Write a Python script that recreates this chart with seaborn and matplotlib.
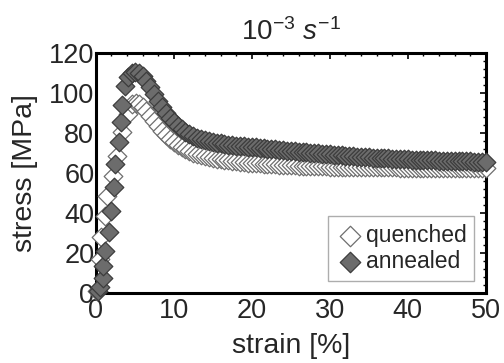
import numpy as np
import pandas as pd
import matplotlib
matplotlib.use("Agg")
import matplotlib.pyplot as plt
from matplotlib.ticker import MultipleLocator
import seaborn as sns

# ---- data ----
q_strain = [0.1, 0.5, 0.7, 1.15, 1.5, 2.2, 2.7, 3.3, 4.1, 4.7, 5.1,
            5.5, 6.0, 6.5, 7.0, 7.5, 8.0, 8.5, 9.0, 9.5, 10.0, 10.5, 11.0, 11.5, 12.0,
            12.5, 13.0, 13.5, 14.0, 14.5, 15.0, 15.5, 16.0, 16.5, 17.0, 17.5, 18.0,
            18.5, 19.0, 19.5, 20.0, 20.5, 21.0, 21.5, 22.0, 22.5, 23.0, 23.5, 24.0,
            24.5, 25.0, 25.5, 26.0, 26.5, 27.0, 27.5, 28.0, 28.5, 29.0, 29.5, 30.0,
            30.5, 31.0, 31.5, 32.0, 32.5, 33.0, 33.5, 34.0, 34.5, 35.0, 35.5, 36.0,
            36.5, 37.0, 37.5, 38.0, 38.5, 39.0, 39.5, 40.0, 40.5, 41.0, 41.5, 42.0,
            42.5, 43.0, 43.5, 44.0, 44.5, 45.0, 45.5, 46.0, 46.5, 47.0, 47.5, 48.0,
            48.5, 49.0, 49.5, 50.0]
q_stress = [1, 17, 28, 38.5, 48.5, 58.5, 68.5, 80.5, 89.5, 94.5, 95,
            94.5, 93, 91, 88.5, 86, 83.5, 81, 79, 77, 75.5, 74, 72.8, 71.8, 71,
            70.2, 69.5, 69, 68.5, 68, 67.6, 67.2, 66.9, 66.6, 66.3, 66, 65.8,
            65.6, 65.4, 65.2, 65, 64.9, 64.8, 64.6, 64.5, 64.4, 64.3, 64.2, 64.1,
            64, 63.9, 63.8, 63.7, 63.6, 63.6, 63.5, 63.4, 63.4, 63.3, 63.3, 63.2,
            63.2, 63.1, 63.1, 63.1, 63, 63, 63, 63, 62.9, 62.9, 62.9, 62.9,
            62.8, 62.8, 62.8, 62.8, 62.8, 62.7, 62.7, 62.7, 62.7, 62.7, 62.7, 62.6,
            62.6, 62.6, 62.6, 62.6, 62.6, 62.6, 62.5, 62.5, 62.5, 62.5, 62.5, 62.5,
            62.5, 62.5, 62.5, 62.5]

a_strain = [0.3, 0.5, 0.9, 0.9, 1.15, 1.7, 2.0, 2.3, 2.5, 3.0, 3.2, 3.4, 3.7, 4.1, 4.6, 5.0,
            5.5, 6.0, 6.5, 7.0, 7.5, 8.0, 8.5, 9.0, 9.5, 10.0, 10.5, 11.0, 11.5, 12.0,
            12.5, 13.0, 13.5, 14.0, 14.5, 15.0, 15.5, 16.0, 16.5, 17.0, 17.5, 18.0,
            18.5, 19.0, 19.5, 20.0, 20.5, 21.0, 21.5, 22.0, 22.5, 23.0, 23.5, 24.0,
            24.5, 25.0, 25.5, 26.0, 26.5, 27.0, 27.5, 28.0, 28.5, 29.0, 29.5, 30.0,
            30.5, 31.0, 31.5, 32.0, 32.5, 33.0, 33.5, 34.0, 34.5, 35.0, 35.5, 36.0,
            36.5, 37.0, 37.5, 38.0, 38.5, 39.0, 39.5, 40.0, 40.5, 41.0, 41.5, 42.0,
            42.5, 43.0, 43.5, 44.0, 44.5, 45.0, 45.5, 46.0, 46.5, 47.0, 47.5, 48.0,
            48.5, 49.0, 49.5, 50.0]
a_stress = [1, 3, 7.5, 13.5, 21, 30.5, 41, 53, 64.5, 75.5, 85.5, 94, 103.5, 108, 110, 110.5,
            110, 108.5, 106, 103, 99.5, 96, 93, 90, 87.5, 85.5, 83.5, 82, 80.5, 79.5,
            78.5, 77.5, 77, 76.5, 76, 75.5, 75, 74.8, 74.5, 74.2, 74, 73.7,
            73.5, 73.3, 73.1, 73, 72.8, 72.6, 72.4, 72.2, 72, 71.8, 71.6, 71.4,
            71.2, 71, 70.8, 70.6, 70.5, 70.3, 70.1, 70, 69.8, 69.6, 69.5, 69.3,
            69.1, 69, 68.8, 68.6, 68.5, 68.3, 68.2, 68, 67.9, 67.8, 67.7, 67.6,
            67.5, 67.4, 67.3, 67.2, 67.1, 67, 66.9, 66.8, 66.7, 66.6, 66.5, 66.5,
            66.4, 66.3, 66.3, 66.2, 66.1, 66.1, 66, 66, 65.9, 65.9, 65.8, 65.8,
            65.7, 65.7, 65.6, 65.6]

series_names = ["quenched", "annealed"]

sns.set_style("white")
plt.rcParams["font.family"] = ["Liberation Sans", "DejaVu Sans"]
plt.rcParams["mathtext.fontset"] = "custom"
plt.rcParams["mathtext.rm"] = "Liberation Sans"
plt.rcParams["mathtext.it"] = "Liberation Sans:italic"

fig = plt.figure(figsize=(5.04, 3.63), dpi=100)
ax = fig.add_axes([0.19, 0.193, 0.774, 0.661])

dq = pd.DataFrame({"strain": q_strain, "stress": q_stress})
da = pd.DataFrame({"strain": a_strain, "stress": a_stress})

sns.scatterplot(data=dq, x="strain", y="stress", ax=ax, marker="D", s=90,
                facecolor="white", edgecolor="#6e6e6e", linewidth=0.9,
                label=series_names[0], zorder=3, clip_on=False)
sns.scatterplot(data=da, x="strain", y="stress", ax=ax, marker="D", s=90,
                color="#6c6c6c", edgecolor="#3c3c3c", linewidth=0.9,
                label=series_names[1], zorder=4, clip_on=False)

ax.set_xlim(0, 50)
ax.set_ylim(0, 120)
ax.xaxis.set_major_locator(MultipleLocator(10))
ax.yaxis.set_major_locator(MultipleLocator(20))
ax.xaxis.set_minor_locator(MultipleLocator(2))
ax.yaxis.set_minor_locator(MultipleLocator(4))
ax.tick_params(which="both", direction="in", top=True, right=True,
               labelsize=19.5, color="black")
ax.tick_params(axis="x", which="both", pad=4)
ax.tick_params(axis="y", which="both", pad=1)
ax.tick_params(which="major", length=4, width=1.2)
ax.tick_params(which="minor", length=2, width=1.0)
for sp in ax.spines.values():
    sp.set_linewidth(2.2)
    sp.set_color("black")

ax.set_xlabel("strain [%]", fontsize=20.5, labelpad=6)
ax.set_ylabel("stress [MPa]", fontsize=20.5, labelpad=8)
ax.set_title(r"$10^{-3}\ s^{-1}$", fontsize=20, pad=9)

leg = ax.legend(loc="lower right", fontsize=16.5, frameon=True, fancybox=False,
                edgecolor="#999999", handletextpad=0.1, borderpad=0.35,
                labelspacing=0.15, handlelength=1.2, borderaxespad=0.5,
                markerscale=1.1)
leg.get_frame().set_linewidth(1.0)

fig.savefig("out.png", dpi=100)
